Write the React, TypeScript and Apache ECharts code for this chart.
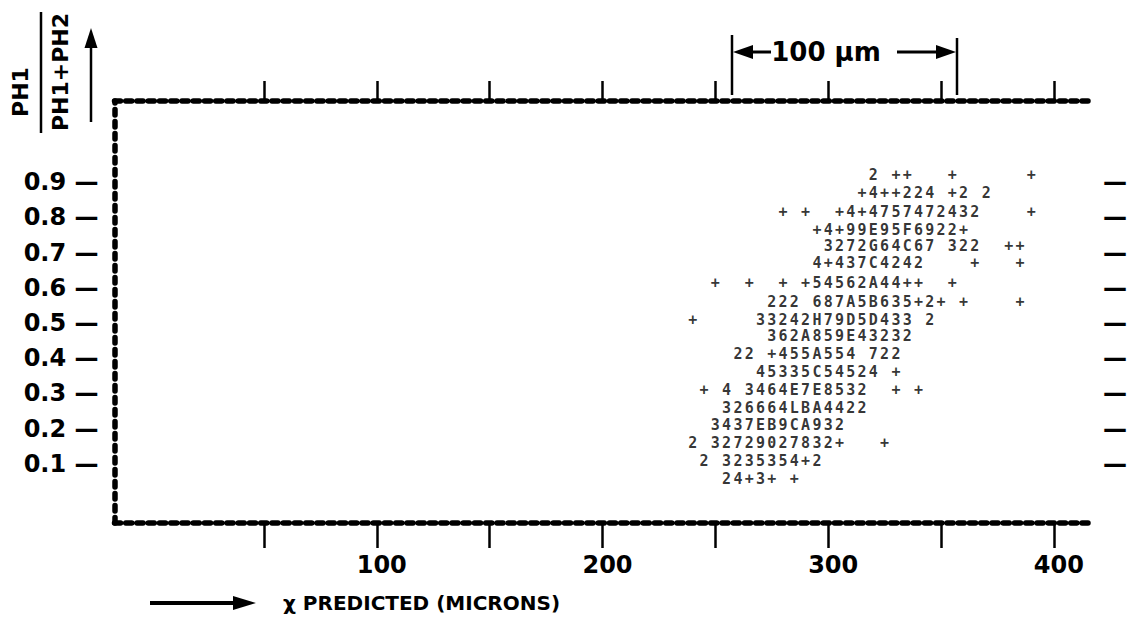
import React, { useEffect, useRef } from "react";
import * as echarts from "echarts";

// ---- axis ticks / labels (microns, ratio) ----
const xTickValues = [50, 100, 150, 200, 250, 300, 350, 400];
const xLabelValues = [100, 200, 300, 400];
const yTickValues = [0.1, 0.2, 0.3, 0.4, 0.5, 0.6, 0.7, 0.8, 0.9];

// ---- line-printer grid: column 0 sits at 320 microns, one column = 5 microns ----
const COL0_MICRONS = 320;
const COL_WIDTH_MICRONS = 5;

// PH1/(PH1+PH2) value of each printed row, top to bottom
const rowY = [
  0.92, 0.869, 0.815, 0.764, 0.718, 0.67, 0.615, 0.561, 0.51,
  0.462, 0.411, 0.362, 0.311, 0.259, 0.211, 0.16, 0.107, 0.057,
];
// first printed column of each row (relative to column 0)
const rowStartCol = [0, -1, -8, -5, -4, -5, -14, -9, -16, -9, -12, -10, -15, -13, -14, -16, -15, -13];
// printed characters of each row (counts: 1-9, A=10 ... , + = single)
const rowText = [
  "2 ++   +      +",
  "+4++224 +2 2",
  "+ +  +4+4757472432    +",
  "+4+99E95F6922+",
  "3272G64C67 322  ++",
  "4+437C4242    +   +",
  "+  +  + +54562A44++  +",
  "222 687A5B635+2+ +    +",
  "+     33242H79D5D433 2",
  "362A859E43232",
  "22 +455A554 722",
  "45335C54524 +",
  "+ 4 3464E7E8532  + +",
  "326664LBA4422",
  "3437EB9CA932",
  "2 32729027832+   +",
  "2 3235354+2",
  "24+3+ +",
];

const X_MIN = -16.2;
const X_MAX = 416.0;
const Y_MIN = -0.068;
const Y_MAX = 1.131;

const LABEL_FONT = "'DejaVu Sans', 'Noto Sans', sans-serif";
const PRINT_FONT = "'DejaVu Sans Mono', 'Liberation Mono', monospace";

function buildPoints() {
  const pts: any[] = [];
  rowText.forEach((t, r) => {
    for (let i = 0; i < t.length; i++) {
      const ch = t[i];
      if (ch === " ") continue;
      pts.push([COL0_MICRONS + COL_WIDTH_MICRONS * (rowStartCol[r] + i), rowY[r], ch]);
    }
  });
  return pts;
}

export default function App() {
  const ref = useRef<HTMLDivElement>(null);

  useEffect(() => {
    if (!ref.current) return;
    const chart = echarts.init(ref.current, null, { renderer: "svg" });
    const dotted = { color: "#000", width: 5.5, type: [6, 5.25] as any };

    const option: any = {
      animation: false,
      backgroundColor: "#ffffff",
      grid: { left: 114.5, right: 40, top: 101, bottom: 95, containLabel: false },
      xAxis: [
        {
          type: "value",
          position: "bottom",
          min: X_MIN,
          max: X_MAX,
          splitLine: { show: false },
          axisLine: { show: true, onZero: false, lineStyle: dotted },
          axisTick: {
            show: true,
            customValues: xTickValues,
            length: 25,
            lineStyle: { color: "#000", width: 2.5 },
          },
          axisLabel: {
            show: true,
            customValues: xLabelValues,
            margin: 30,
            color: "#000",
            fontSize: 24,
            fontWeight: "bold",
            fontFamily: LABEL_FONT,
            padding: [0, 0, 0, 10],
            formatter: (v: number) => String(v),
          },
        },
        {
          type: "value",
          position: "top",
          min: X_MIN,
          max: X_MAX,
          splitLine: { show: false },
          axisLine: { show: true, onZero: false, lineStyle: dotted },
          axisTick: {
            show: true,
            customValues: xTickValues,
            length: 20,
            lineStyle: { color: "#000", width: 2.5 },
          },
          axisLabel: { show: false },
        },
      ],
      yAxis: [
        {
          type: "value",
          position: "left",
          min: Y_MIN,
          max: Y_MAX,
          splitLine: { show: false },
          axisLine: { show: true, onZero: false, lineStyle: { color: "#000", width: 5.5, type: [5.5, 6.5] } },
          axisTick: { show: false },
          axisLabel: {
            show: true,
            customValues: yTickValues,
            margin: 16,
            color: "#000",
            fontSize: 24,
            fontWeight: "bold",
            fontFamily: LABEL_FONT,
            formatter: (v: number) => v.toFixed(1) + " \u2014",
          },
        },
        {
          type: "value",
          position: "right",
          min: Y_MIN,
          max: Y_MAX,
          splitLine: { show: false },
          axisLine: { show: false },
          axisTick: { show: false },
          axisLabel: {
            show: true,
            customValues: yTickValues,
            margin: 13,
            color: "#000",
            fontSize: 24,
            fontWeight: "bold",
            fontFamily: LABEL_FONT,
            formatter: () => "\u2014",
          },
        },
      ],
      series: [
        {
          type: "scatter",
          xAxisIndex: 0,
          yAxisIndex: 0,
          data: buildPoints(),
          symbol: "circle",
          symbolSize: 1,
          itemStyle: { color: "rgba(0,0,0,0)" },
          silent: true,
          label: {
            show: true,
            position: "inside",
            color: "#000",
            fontFamily: PRINT_FONT,
            fontWeight: "bold",
            fontSize: 15,
            lineHeight: 13,
            formatter: (p: any) => p.value[2],
          },
        },
      ],
      graphic: [
        // y-axis title: PH1 / (PH1+PH2), rotated
        {
          type: "text",
          x: 20,
          y: 92,
          rotation: Math.PI / 2,
          style: {
            text: "PH1",
            fill: "#000",
            font: `bold 22px ${LABEL_FONT}`,
            align: "center",
            verticalAlign: "middle",
          },
        },
        {
          type: "line",
          shape: { x1: 41, y1: 12, x2: 41, y2: 133 },
          style: { stroke: "#000", lineWidth: 2.5 },
        },
        {
          type: "text",
          x: 60,
          y: 72,
          rotation: Math.PI / 2,
          style: {
            text: "PH1+PH2",
            fill: "#000",
            font: `bold 22px ${LABEL_FONT}`,
            align: "center",
            verticalAlign: "middle",
          },
        },
        {
          type: "line",
          shape: { x1: 91, y1: 122, x2: 91, y2: 44 },
          style: { stroke: "#000", lineWidth: 2.5 },
        },
        {
          type: "polygon",
          shape: { points: [[91, 28], [84.5, 48], [97.5, 48]] },
          style: { fill: "#000" },
        },
        // 100 um scale bar
        {
          type: "line",
          shape: { x1: 732, y1: 35, x2: 732, y2: 95 },
          style: { stroke: "#000", lineWidth: 2.5 },
        },
        {
          type: "line",
          shape: { x1: 957, y1: 38, x2: 957, y2: 95 },
          style: { stroke: "#000", lineWidth: 2.5 },
        },
        {
          type: "polygon",
          shape: { points: [[733, 52], [753, 45], [753, 59]] },
          style: { fill: "#000" },
        },
        {
          type: "line",
          shape: { x1: 750, y1: 52, x2: 771, y2: 52 },
          style: { stroke: "#000", lineWidth: 3 },
        },
        {
          type: "text",
          x: 826,
          y: 52,
          style: {
            text: "100 \u00b5m",
            fill: "#000",
            font: `bold 26px ${LABEL_FONT}`,
            align: "center",
            verticalAlign: "middle",
          },
        },
        {
          type: "line",
          shape: { x1: 897, y1: 52, x2: 939, y2: 52 },
          style: { stroke: "#000", lineWidth: 3 },
        },
        {
          type: "polygon",
          shape: { points: [[956, 52], [936, 45], [936, 59]] },
          style: { fill: "#000" },
        },
        // x-axis title
        {
          type: "line",
          shape: { x1: 150, y1: 603, x2: 236, y2: 603 },
          style: { stroke: "#000", lineWidth: 4 },
        },
        {
          type: "polygon",
          shape: { points: [[256, 603], [233, 596], [233, 610]] },
          style: { fill: "#000" },
        },
        {
          type: "text",
          x: 283,
          y: 603,
          style: {
            text: "\u03c7 PREDICTED (MICRONS)",
            fill: "#000",
            font: `bold 20px ${LABEL_FONT}`,
            align: "left",
            verticalAlign: "middle",
          },
        },
      ],
    };

    chart.setOption(option);
    return () => chart.dispose();
  }, []);

  return (
    <div
      ref={ref}
      style={{ position: "absolute", left: 0, top: 0, width: 1130, height: 618, background: "#fff" }}
    />
  );
}
